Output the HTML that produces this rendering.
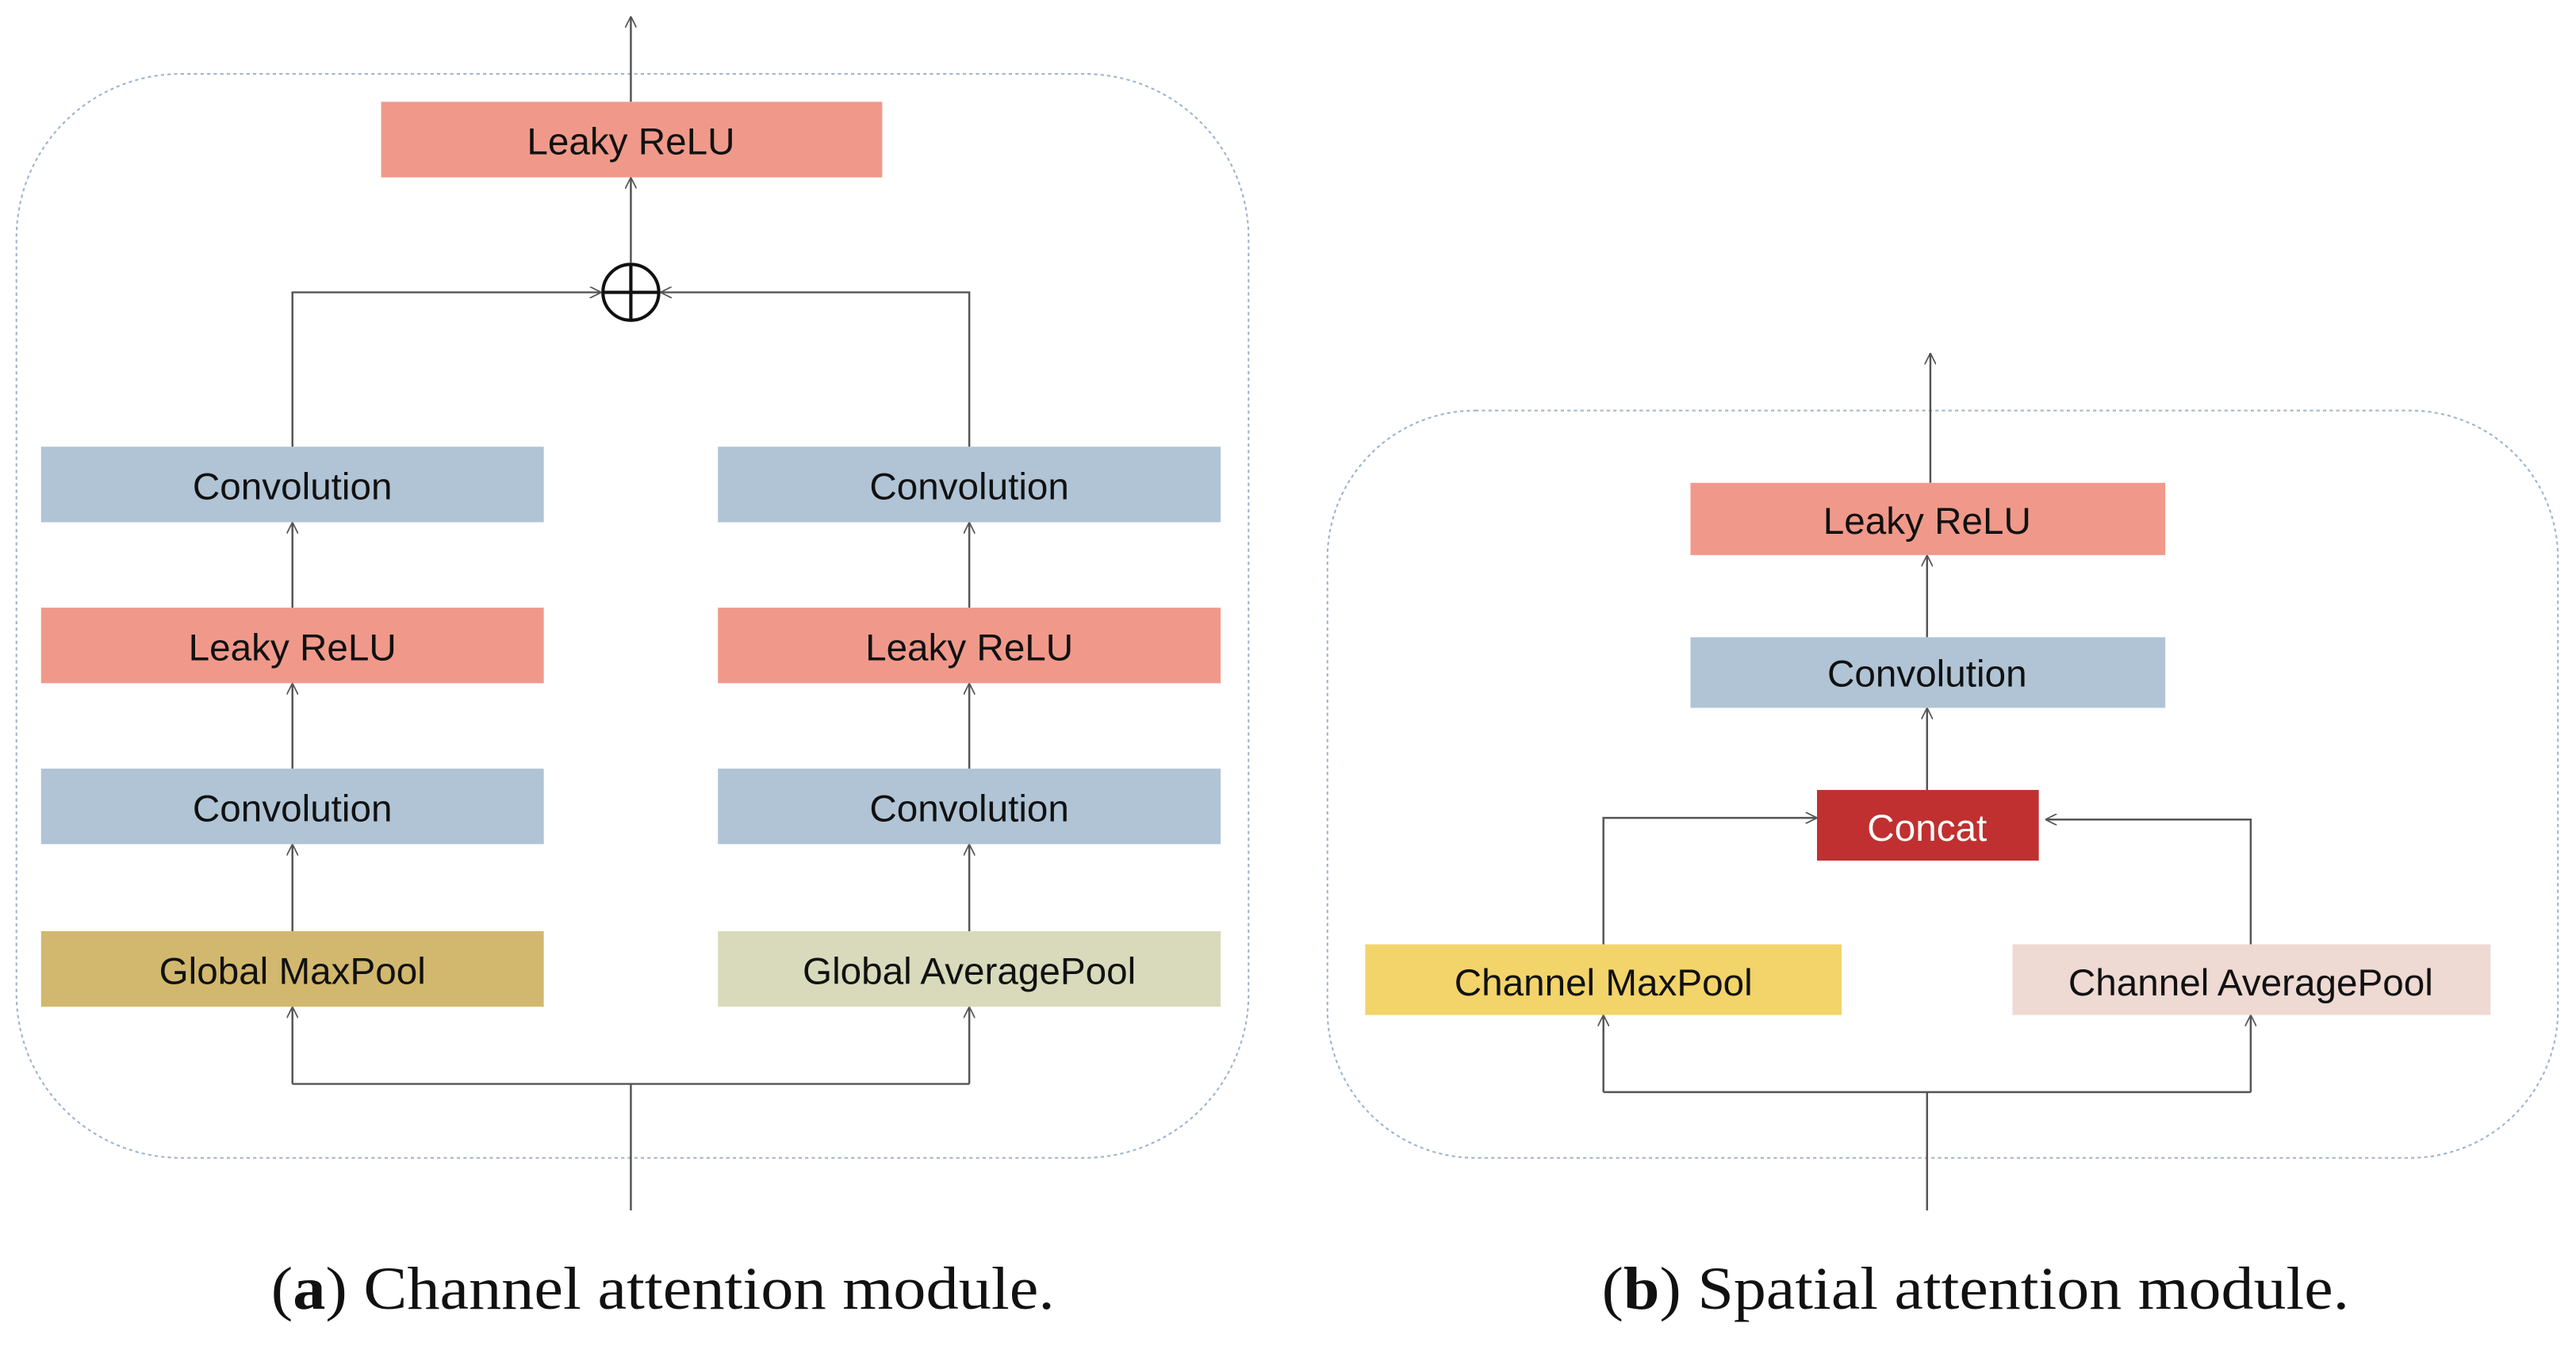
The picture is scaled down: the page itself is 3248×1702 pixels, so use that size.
<!DOCTYPE html>
<html><head><style>html,body{margin:0;padding:0;background:#fff}svg{display:block}</style></head>
<body>
<svg width="3248" height="1702" viewBox="0 0 1568 822" preserveAspectRatio="none" xmlns="http://www.w3.org/2000/svg">
<defs>
<marker id="ar" viewBox="0 0 10 10" refX="10" refY="5" markerWidth="7" markerHeight="7" orient="auto" markerUnits="userSpaceOnUse">
<path d="M0,0 L10,5 L0,10" fill="none" stroke="#555" stroke-width="1.2"/></marker>
</defs>
<g font-family="Liberation Sans, sans-serif" font-size="23" text-anchor="middle" fill="#111">
<rect x="10" y="45" width="750" height="660" rx="100" ry="100" fill="none" stroke="#9db3cc" stroke-width="1" stroke-dasharray="2,2"/>
<g stroke="#555" stroke-width="1.2" fill="none">
<line x1="384" y1="62" x2="384" y2="10" marker-end="url(#ar)"/>
<line x1="384" y1="160" x2="384" y2="108" marker-end="url(#ar)"/>
<polyline points="178,272 178,178 366,178" marker-end="url(#ar)"/>
<polyline points="590,272 590,178 402,178" marker-end="url(#ar)"/>
<line x1="178" y1="370" x2="178" y2="318" marker-end="url(#ar)"/>
<line x1="178" y1="468" x2="178" y2="416" marker-end="url(#ar)"/>
<line x1="178" y1="567" x2="178" y2="514" marker-end="url(#ar)"/>
<line x1="590" y1="370" x2="590" y2="318" marker-end="url(#ar)"/>
<line x1="590" y1="468" x2="590" y2="416" marker-end="url(#ar)"/>
<line x1="590" y1="567" x2="590" y2="514" marker-end="url(#ar)"/>
<line x1="384" y1="737" x2="384" y2="660"/>
<polyline points="178,660 590,660"/>
<line x1="178" y1="660" x2="178" y2="613" marker-end="url(#ar)"/>
<line x1="590" y1="660" x2="590" y2="613" marker-end="url(#ar)"/>
</g>
<circle cx="384" cy="178" r="17" fill="none" stroke="#111" stroke-width="2"/>
<line x1="367" y1="178" x2="401" y2="178" stroke="#111" stroke-width="2"/>
<line x1="384" y1="161" x2="384" y2="195" stroke="#111" stroke-width="2"/>
<rect x="232" y="62" width="305" height="46" fill="#f0998a"/><text x="384" y="94">Leaky ReLU</text>
<rect x="25" y="272" width="306" height="46" fill="#b0c4d6"/><text x="178" y="304">Convolution</text>
<rect x="25" y="370" width="306" height="46" fill="#f0998a"/><text x="178" y="402">Leaky ReLU</text>
<rect x="25" y="468" width="306" height="46" fill="#b0c4d6"/><text x="178" y="500">Convolution</text>
<rect x="25" y="567" width="306" height="46" fill="#d2b86e"/><text x="178" y="599">Global MaxPool</text>
<rect x="437" y="272" width="306" height="46" fill="#b0c4d6"/><text x="590" y="304">Convolution</text>
<rect x="437" y="370" width="306" height="46" fill="#f0998a"/><text x="590" y="402">Leaky ReLU</text>
<rect x="437" y="468" width="306" height="46" fill="#b0c4d6"/><text x="590" y="500">Convolution</text>
<rect x="437" y="567" width="306" height="46" fill="#d8dabb"/><text x="590" y="599">Global AveragePool</text>
<rect x="808" y="250" width="749" height="455" rx="90" ry="90" fill="none" stroke="#9db3cc" stroke-width="1" stroke-dasharray="2,2"/>
<g stroke="#555" stroke-width="1.2" fill="none">
<line x1="1175" y1="294" x2="1175" y2="215" marker-end="url(#ar)"/>
<line x1="1173" y1="388" x2="1173" y2="338" marker-end="url(#ar)"/>
<line x1="1173" y1="481" x2="1173" y2="431" marker-end="url(#ar)"/>
<polyline points="976,575 976,498 1106,498" marker-end="url(#ar)"/>
<polyline points="1370,575 1370,499 1245,499" marker-end="url(#ar)"/>
<line x1="1173" y1="737" x2="1173" y2="665"/>
<polyline points="976,665 1370,665"/>
<line x1="976" y1="665" x2="976" y2="618" marker-end="url(#ar)"/>
<line x1="1370" y1="665" x2="1370" y2="618" marker-end="url(#ar)"/>
</g>
<rect x="1029" y="294" width="289" height="44" fill="#f0998a"/><text x="1173" y="325">Leaky ReLU</text>
<rect x="1029" y="388" width="289" height="43" fill="#b0c4d6"/><text x="1173" y="418">Convolution</text>
<rect x="1106" y="481" width="135" height="43" fill="#c03030"/><text x="1173" y="512" fill="#fff">Concat</text>
<rect x="831" y="575" width="290" height="43" fill="#f2d46a"/><text x="976" y="606">Channel MaxPool</text>
<rect x="1225" y="575" width="291" height="43" fill="#eed9d3"/><text x="1370" y="606">Channel AveragePool</text>
</g>
<g font-family="Liberation Serif, serif" font-size="37" fill="#111">
<text x="165" y="797" textLength="477" lengthAdjust="spacingAndGlyphs">(<tspan font-weight="bold">a</tspan>) Channel attention module.</text>
<text x="975" y="797" textLength="455" lengthAdjust="spacingAndGlyphs">(<tspan font-weight="bold">b</tspan>) Spatial attention module.</text>
</g>
</svg>
</body></html>
